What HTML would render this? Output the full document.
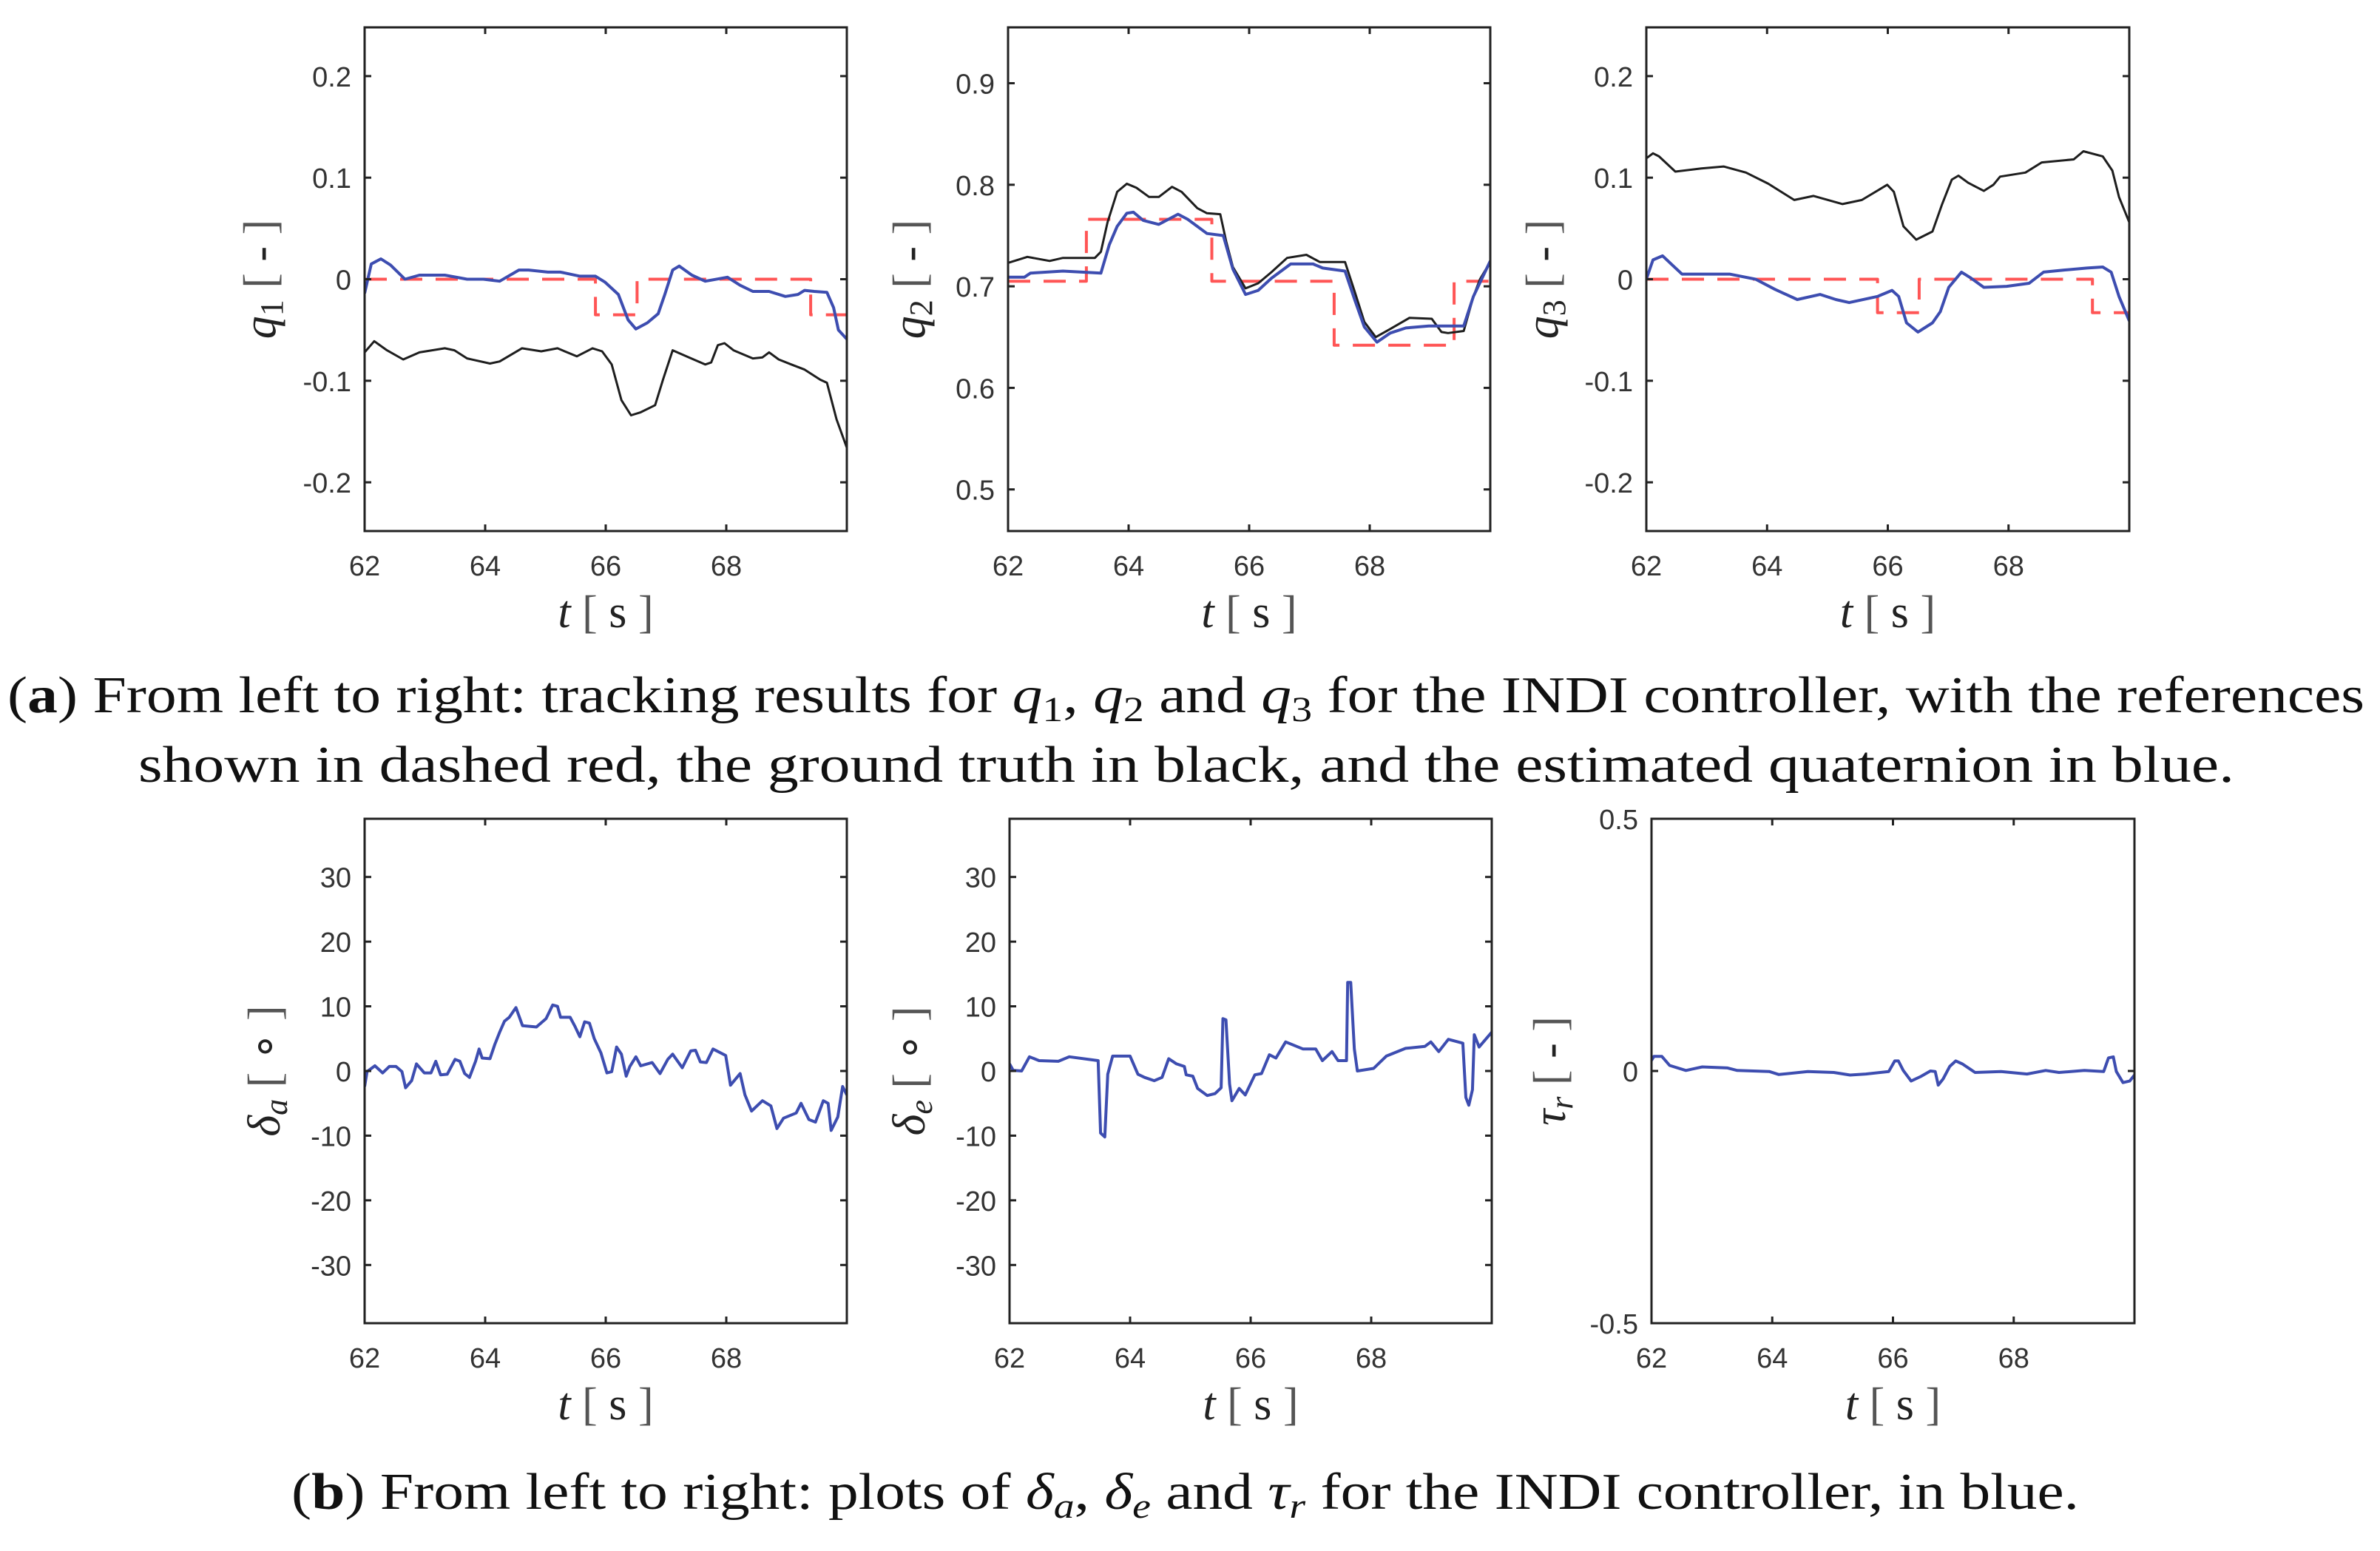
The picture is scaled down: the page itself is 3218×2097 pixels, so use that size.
<!DOCTYPE html>
<html><head><meta charset="utf-8">
<style>
html,body{margin:0;padding:0;background:#fff;}
svg{display:block;}
.tick{font-family:"Liberation Sans",Arial,sans-serif;font-size:38px;fill:#333;}
.lab{font-family:"Liberation Serif",serif;font-size:62px;fill:#222;}
.br{fill:#555;}
.cap{font-family:"Liberation Serif",serif;font-size:70px;fill:#111;}
</style></head>
<body>
<svg id="fig" width="3218" height="2097" viewBox="0 0 3218 2097" xmlns="http://www.w3.org/2000/svg">
<g id="plots"></g>
<text class="cap" x="10" y="963" textLength="3187" lengthAdjust="spacingAndGlyphs">(<tspan font-weight="bold">a</tspan>) From left to right: tracking results for <tspan font-style="italic">q</tspan><tspan font-size="48" dy="12">1</tspan><tspan dy="-12">, </tspan><tspan font-style="italic">q</tspan><tspan font-size="48" dy="12">2</tspan><tspan dy="-12"> and </tspan><tspan font-style="italic">q</tspan><tspan font-size="48" dy="12">3</tspan><tspan dy="-12"> for the INDI controller, with the references</tspan></text>
<text class="cap" x="187" y="1057" textLength="2834" lengthAdjust="spacingAndGlyphs">shown in dashed red, the ground truth in black, and the estimated quaternion in blue.</text>
<text class="cap" x="394" y="2040" textLength="2417" lengthAdjust="spacingAndGlyphs">(<tspan font-weight="bold">b</tspan>) From left to right: plots of <tspan font-style="italic">δ</tspan><tspan font-size="48" font-style="italic" dy="12">a</tspan><tspan dy="-12">, </tspan><tspan font-style="italic">δ</tspan><tspan font-size="48" font-style="italic" dy="12">e</tspan><tspan dy="-12"> and </tspan><tspan font-style="italic">τ</tspan><tspan font-size="48" font-style="italic" dy="12">r</tspan><tspan dy="-12"> for the INDI controller, in blue.</tspan></text>
</svg>
<script>
// ---------- data ----------
const xTicks = [62, 64, 66, 68];
// q1
const q1BlueT = [62,62.11,62.27,62.43,62.67,62.91,63.33,63.70,63.97,64.24,64.56,64.72,65.04,65.25,65.57,65.83,65.99,66.21,66.37,66.50,66.69,66.87,66.98,67.11,67.22,67.43,67.65,68.02,68.23,68.44,68.71,68.98,69.19,69.30,69.46,69.67,69.78,69.86,70];
const q1BlueV = [-0.014,0.015,0.020,0.014,0.0,0.004,0.004,0,0,-0.002,0.009,0.009,0.007,0.007,0.003,0.003,-0.003,-0.015,-0.040,-0.049,-0.043,-0.034,-0.015,0.009,0.013,0.004,-0.002,0.002,-0.006,-0.012,-0.012,-0.017,-0.015,-0.011,-0.012,-0.013,-0.028,-0.050,-0.059];
const q1BlackT = [62,62.16,62.37,62.64,62.91,63.33,63.49,63.70,64.08,64.24,64.61,64.93,65.20,65.52,65.78,65.94,66.10,66.26,66.42,66.58,66.82,66.95,67.11,67.38,67.65,67.75,67.86,67.97,68.12,68.44,68.60,68.71,68.87,69.08,69.30,69.56,69.67,69.83,70];
const q1BlackV = [-0.072,-0.061,-0.070,-0.079,-0.072,-0.068,-0.070,-0.078,-0.083,-0.081,-0.068,-0.071,-0.068,-0.076,-0.068,-0.071,-0.084,-0.119,-0.134,-0.131,-0.124,-0.099,-0.070,-0.077,-0.084,-0.082,-0.065,-0.063,-0.070,-0.078,-0.077,-0.072,-0.079,-0.084,-0.089,-0.099,-0.102,-0.138,-0.166];
const q1RefT = [62, 65.83, 66.52, 69.40, 70];
const q1RefV = [0, -0.035, 0, -0.035];
// q2
const q2BlueT = [62,62.27,62.37,62.91,63.54,63.68,63.81,63.97,64.08,64.24,64.50,64.82,64.98,65.30,65.57,65.73,65.94,66.15,66.37,66.69,67.06,67.22,67.59,67.75,67.91,68.12,68.34,68.60,68.98,69.30,69.56,69.72,70];
const q2BlueV = [0.709,0.709,0.713,0.715,0.713,0.741,0.759,0.772,0.773,0.765,0.761,0.771,0.766,0.752,0.750,0.717,0.692,0.696,0.708,0.722,0.722,0.718,0.715,0.687,0.660,0.645,0.654,0.659,0.661,0.661,0.661,0.690,0.725];
const q2BlackT = [62,62.32,62.69,62.91,63.44,63.54,63.65,63.81,63.97,64.13,64.34,64.50,64.72,64.88,65.14,65.30,65.52,65.62,65.73,65.94,66.15,66.37,66.63,66.95,67.17,67.59,67.75,67.91,68.10,68.34,68.66,69.03,69.19,69.30,69.56,69.72,69.83,70];
const q2BlackV = [0.723,0.729,0.725,0.728,0.728,0.734,0.763,0.793,0.801,0.797,0.788,0.788,0.798,0.793,0.777,0.772,0.771,0.744,0.719,0.698,0.703,0.714,0.728,0.731,0.724,0.724,0.695,0.665,0.650,0.658,0.669,0.668,0.655,0.654,0.656,0.690,0.707,0.724];
const q2RefT = [62, 63.30, 65.38, 67.41, 69.40, 70];
const q2RefV = [0.705, 0.766, 0.705, 0.642, 0.705];
// q3
const q3BlueT = [62,62.11,62.27,62.43,62.59,62.91,63.38,63.81,64.13,64.50,64.88,65.14,65.36,65.83,66.07,66.18,66.31,66.50,66.74,66.87,67.01,67.22,67.38,67.59,67.97,68.34,68.58,68.92,69.30,69.56,69.70,69.83,70];
const q3BlueV = [0.0,0.019,0.023,0.014,0.005,0.005,0.005,0,-0.010,-0.020,-0.015,-0.020,-0.023,-0.017,-0.011,-0.017,-0.043,-0.052,-0.043,-0.032,-0.008,0.007,0.001,-0.008,-0.007,-0.004,0.007,0.009,0.011,0.012,0.007,-0.017,-0.041];
const q3BlackT = [62,62.11,62.21,62.48,62.91,63.28,63.65,64.02,64.45,64.77,65.25,65.57,65.99,66.10,66.26,66.47,66.74,66.90,67.06,67.17,67.33,67.59,67.75,67.86,68.28,68.55,69.08,69.24,69.56,69.72,69.83,70];
const q3BlackV = [0.119,0.124,0.121,0.106,0.109,0.111,0.105,0.094,0.078,0.082,0.074,0.078,0.093,0.086,0.052,0.039,0.047,0.074,0.098,0.102,0.095,0.087,0.093,0.101,0.105,0.115,0.118,0.126,0.121,0.107,0.081,0.056];
const q3RefT = [62, 65.83, 66.52, 69.39, 70];
const q3RefV = [0, -0.033, 0, -0.033];
// delta_a
const daT = [62.00,62.04,62.17,62.30,62.41,62.52,62.62,62.68,62.78,62.86,62.99,63.10,63.18,63.26,63.37,63.50,63.58,63.66,63.74,63.84,63.90,63.95,64.08,64.16,64.24,64.32,64.40,64.51,64.62,64.85,65.01,65.12,65.20,65.25,65.41,65.49,65.57,65.65,65.73,65.81,65.92,66.02,66.10,66.18,66.26,66.34,66.40,66.50,66.58,66.77,66.90,67.03,67.11,67.27,67.41,67.49,67.57,67.67,67.78,67.99,68.07,68.23,68.31,68.42,68.60,68.74,68.84,68.95,69.16,69.24,69.37,69.48,69.61,69.69,69.74,69.85,69.93,70];
const daV = [-2.4,-0.1,0.8,-0.3,0.7,0.7,-0.1,-2.6,-1.5,1.1,-0.3,-0.3,1.5,-0.6,-0.5,1.8,1.5,-0.4,-1.0,1.5,3.4,2.0,1.9,4.1,6.0,7.7,8.3,9.8,7.0,6.8,8.1,10.2,10.0,8.3,8.3,6.9,5.3,7.6,7.4,5.0,2.8,-0.3,-0.1,3.7,2.6,-0.8,0.7,2.2,0.8,1.3,-0.4,1.8,2.6,0.5,3.1,3.2,1.4,1.3,3.4,2.4,-2.2,-0.4,-3.7,-6.2,-4.6,-5.4,-8.9,-7.3,-6.5,-5.0,-7.5,-7.9,-4.6,-5.0,-9.2,-7.1,-2.4,-3.7];
// delta_e
const deT = [62,62.06,62.20,62.33,62.49,62.81,62.99,63.47,63.51,63.58,63.63,63.71,64.00,64.13,64.24,64.40,64.53,64.64,64.77,64.90,64.93,65.04,65.12,65.28,65.41,65.51,65.54,65.59,65.65,65.69,65.81,65.91,66.07,66.18,66.31,66.42,66.58,66.87,67.08,67.19,67.35,67.45,67.59,67.61,67.66,67.72,67.77,68.04,68.25,68.57,68.89,68.99,69.12,69.28,69.52,69.57,69.62,69.68,69.71,69.79,70];
const deV = [1.1,0.1,0,2.2,1.6,1.5,2.2,1.6,-9.6,-10.2,-0.5,2.3,2.3,-0.5,-1.0,-1.5,-1.0,1.9,1.1,0.7,-0.6,-0.8,-2.7,-3.8,-3.5,-2.6,8.1,7.9,-2.0,-4.6,-2.7,-3.7,-0.6,-0.4,2.5,2.0,4.5,3.4,3.4,1.6,3.0,1.6,1.6,13.7,13.7,3.4,0,0.4,2.3,3.5,3.8,4.5,3.0,4.9,4.3,-4.1,-5.3,-2.9,5.6,3.7,6.0];
// tau_r
const trT = [62,62.04,62.17,62.30,62.57,62.84,63.26,63.42,63.95,64.11,64.59,65.02,65.29,65.55,65.93,66.03,66.09,66.17,66.30,66.46,66.62,66.70,66.75,66.83,66.94,67.04,67.15,67.36,67.79,68.22,68.53,68.75,69.17,69.49,69.57,69.65,69.70,69.81,69.92,70];
const trV = [0.021,0.029,0.029,0.011,0.001,0.008,0.006,0.001,-0.001,-0.007,-0.001,-0.003,-0.008,-0.006,-0.001,0.020,0.020,0.001,-0.020,-0.011,0,-0.001,-0.028,-0.016,0.009,0.020,0.014,-0.003,-0.001,-0.006,0.001,-0.003,0.001,-0.001,0.026,0.028,-0.001,-0.023,-0.020,-0.008];
const yTicksQ = [-0.2, -0.1, 0, 0.1, 0.2];
const yTicksQ2 = [0.5, 0.6, 0.7, 0.8, 0.9];
const yTicksDeg = [-30, -20, -10, 0, 10, 20, 30];
const yTicksTau = [-0.5, 0, 0.5];

// ---------- drawing ----------
const NS = "http://www.w3.org/2000/svg";
const root = document.getElementById('plots');
function mk(tag, attrs, parent){ const e=document.createElementNS(NS,tag); for(const k in attrs) e.setAttribute(k,attrs[k]); (parent||root).appendChild(e); return e; }

function panel(cfg){
  const g = mk('g', {});
  
  
  const sx = t => cfg.x0 + (t-62)/8*(cfg.x1-cfg.x0);
  const sy = v => cfg.y1 - (v-cfg.ymin)/(cfg.ymax-cfg.ymin)*(cfg.y1-cfg.y0);
  const clip = mk('clipPath', {id:'c-'+cfg.name}, g);
  mk('rect', {x:cfg.x0, y:cfg.y0, width:cfg.x1-cfg.x0, height:cfg.y1-cfg.y0}, clip);
  const data = mk('g', {'clip-path':'url(#c-'+cfg.name+')'}, g);
  (cfg.series||[]).forEach(s => {
    let d = '';
    if (s.step) {
      for (let i=0;i<s.v.length;i++){
        d += (i===0?'M':'L') + sx(s.t[i]).toFixed(1)+','+sy(s.v[i]).toFixed(1) + 'L'+sx(s.t[i+1]).toFixed(1)+','+sy(s.v[i]).toFixed(1);
      }
    } else {
      s.t.forEach((t,i)=>{ d += (i===0?'M':'L') + sx(t).toFixed(1)+','+sy(s.v[i]).toFixed(1); });
    }
    const p = mk('path', {d:d, fill:'none', stroke:s.color, 'stroke-width':s.w, 'stroke-linejoin':'round'}, data);
    if (s.dash) p.setAttribute('stroke-dasharray', s.dash);
    if (s.op) p.setAttribute('stroke-opacity', s.op);
    
    
  });
  // frame
  const fr = mk('rect', {x:cfg.x0, y:cfg.y0, width:cfg.x1-cfg.x0, height:cfg.y1-cfg.y0, fill:'none', stroke:'#222', 'stroke-width':3}, g);
  
  
  // x ticks
  xTicks.forEach(t => {
    const x = sx(t);
    mk('line', {x1:x, x2:x, y1:cfg.y1, y2:cfg.y1-9, stroke:'#222','stroke-width':3}, g);
    mk('line', {x1:x, x2:x, y1:cfg.y0, y2:cfg.y0+9, stroke:'#222','stroke-width':3}, g);
    const tx = mk('text', {x:x, y:cfg.y1+60, 'text-anchor':'middle', class:'tick'}, g);
    tx.textContent = t;
    
    
  });
  cfg.yticks.forEach(v => {
    const y = sy(v);
    mk('line', {x1:cfg.x0, x2:cfg.x0+9, y1:y, y2:y, stroke:'#222','stroke-width':3}, g);
    mk('line', {x1:cfg.x1, x2:cfg.x1-9, y1:y, y2:y, stroke:'#222','stroke-width':3}, g);
    const tx = mk('text', {x:cfg.x0-18, y:y+14, 'text-anchor':'end', class:'tick'}, g);
    tx.textContent = v;
    
    
  });
  // x label
  const xl = mk('text', {x:(cfg.x0+cfg.x1)/2, y:cfg.y1+130, 'text-anchor':'middle', class:'lab'}, g);
  xl.innerHTML = '<tspan font-style="italic">t</tspan><tspan class="br"> [ </tspan>s<tspan class="br"> ]</tspan>';
  
  
  // y label
  const cy = (cfg.y0+cfg.y1)/2;
  const yl = mk('text', {x:0, y:0, 'text-anchor':'middle', class:'lab', transform:'translate('+cfg.ylx+','+cy+') rotate(-90)'}, g);
  yl.innerHTML = '<tspan font-style="italic">'+cfg.sym+'</tspan><tspan font-size="44" font-style="'+cfg.subStyle+'" dy="10">'+cfg.sub+'</tspan><tspan dy="-10" class="br"> [ </tspan>'+cfg.unit+'<tspan class="br"> ]</tspan>';
  
  
}

const BLUE = '#3d4db0', BLACK = '#1e1e1e', RED = '#ff2a2a';
const top0 = 37, top1 = 718, bot0 = 1107, bot1 = 1789;
panel({name:'q1-plot', x0:493, x1:1145, y0:top0, y1:top1, ymin:-0.248, ymax:0.248, yticks:yTicksQ, ylx:372, sym:'q', sub:'1', subStyle:'normal', unit:'-',
  series:[{name:'q1-reference', t:q1RefT, v:q1RefV, step:true, color:RED, w:4, dash:'30 18', op:0.8},
          {name:'q1-ground-truth', t:q1BlackT, v:q1BlackV, color:BLACK, w:3},
          {name:'q1-estimate', t:q1BlueT, v:q1BlueV, color:BLUE, w:4}]});
panel({name:'q2-plot', x0:1363, x1:2015, y0:top0, y1:top1, ymin:0.459, ymax:0.955, yticks:yTicksQ2, ylx:1250, sym:'q', sub:'2', subStyle:'normal', unit:'-',
  series:[{name:'q2-reference', t:q2RefT, v:q2RefV, step:true, color:RED, w:4, dash:'30 18', op:0.8},
          {name:'q2-ground-truth', t:q2BlackT, v:q2BlackV, color:BLACK, w:3},
          {name:'q2-estimate', t:q2BlueT, v:q2BlueV, color:BLUE, w:4}]});
panel({name:'q3-plot', x0:2226, x1:2879, y0:top0, y1:top1, ymin:-0.248, ymax:0.248, yticks:yTicksQ, ylx:2106, sym:'q', sub:'3', subStyle:'normal', unit:'-',
  series:[{name:'q3-reference', t:q3RefT, v:q3RefV, step:true, color:RED, w:4, dash:'30 18', op:0.8},
          {name:'q3-ground-truth', t:q3BlackT, v:q3BlackV, color:BLACK, w:3},
          {name:'q3-estimate', t:q3BlueT, v:q3BlueV, color:BLUE, w:4}]});
panel({name:'delta-a-plot', x0:493, x1:1145, y0:bot0, y1:bot1, ymin:-39, ymax:39, yticks:yTicksDeg, ylx:378, sym:'δ', sub:'a', subStyle:'italic', unit:'∘',
  series:[{name:'delta-a-line', t:daT, v:daV, color:BLUE, w:4}]});
panel({name:'delta-e-plot', x0:1365, x1:2017, y0:bot0, y1:bot1, ymin:-39, ymax:39, yticks:yTicksDeg, ylx:1250, sym:'δ', sub:'e', subStyle:'italic', unit:'∘',
  series:[{name:'delta-e-line', t:deT, v:deV, color:BLUE, w:4}]});
panel({name:'tau-r-plot', x0:2233, x1:2886, y0:bot0, y1:bot1, ymin:-0.5, ymax:0.5, yticks:yTicksTau, ylx:2116, sym:'τ', sub:'r', subStyle:'italic', unit:'-',
  series:[{name:'tau-r-line', t:trT, v:trV, color:BLUE, w:4}]});
</script>
</body></html>
